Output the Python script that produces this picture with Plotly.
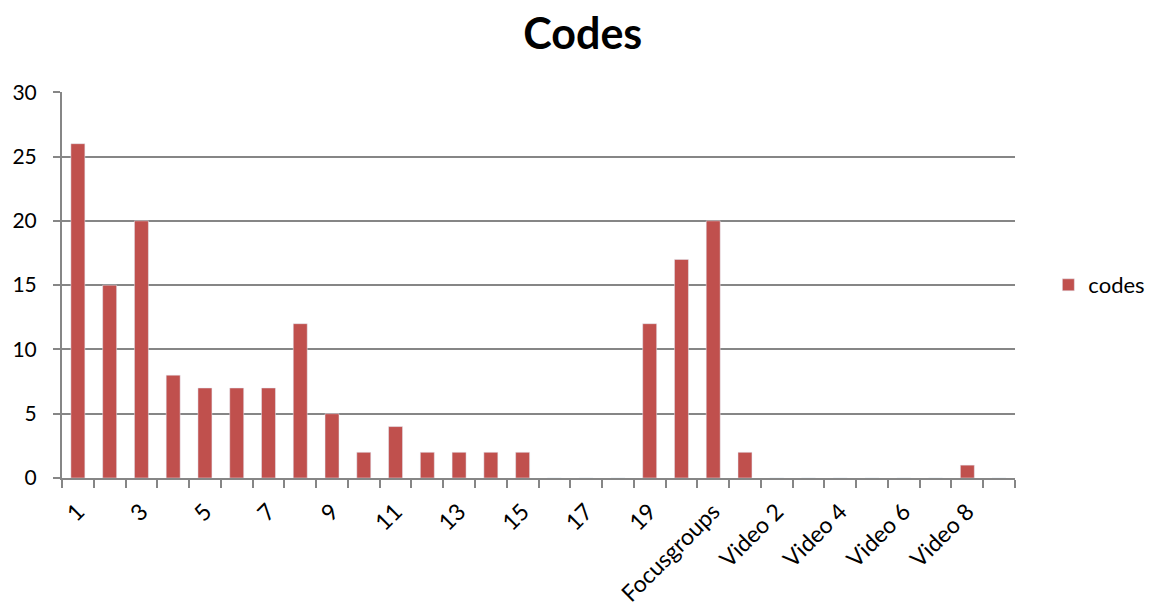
import plotly.graph_objects as go

categories = [str(i) for i in range(1, 21)] + ["Focusgroups"] + [f"Video {i}" for i in range(1, 10)]
values = [26, 15, 20, 8, 7, 7, 7, 12, 5, 2, 4, 2, 2, 2, 2, 0, 0, 0, 12, 17, 20, 2, 0, 0, 0, 0, 0, 0, 1, 0]
series_name = "codes"
y_ticks = [0, 5, 10, 15, 20, 25, 30]

positions = list(range(1, len(categories) + 1))
boundaries = [p - 0.5 for p in positions] + [positions[-1] + 0.5]
label_pos = positions[::2]
label_text = categories[::2]

font = "Lato, Liberation Sans, sans-serif"
grey = "#868686"

fig = go.Figure()
fig.add_trace(go.Bar(x=positions, y=values, name=series_name, marker_color="#C0504D",
                     width=0.44, showlegend=True))
fig.add_trace(go.Scatter(x=[positions[0], positions[-1]], y=[0, 0], xaxis="x2",
                         mode="markers", marker=dict(opacity=0), showlegend=False, hoverinfo="skip"))

xrange = [0.5, len(categories) + 0.5]
# page body has an 8px margin, so the figure is sized to fit inside the window
fig.update_layout(
    width=1145, height=597,
    margin=dict(l=54, r=138, t=84, b=127, autoexpand=False),
    paper_bgcolor="white", plot_bgcolor="white",
    title=dict(text="<b>Codes</b>", x=0.502, xanchor="center", y=0.957, yanchor="middle",
               font=dict(family=font, size=43, color="black")),
    font=dict(family=font, size=20, color="black"),
    xaxis=dict(range=xrange, tickmode="array", tickvals=boundaries, ticktext=[""] * len(boundaries),
               ticks="outside", ticklen=8, tickcolor=grey, tickwidth=2, automargin=False,
               showline=True, linecolor=grey, linewidth=2, showgrid=False, zeroline=False),
    xaxis2=dict(range=xrange, overlaying="x", side="bottom", anchor="y", tickmode="array",
                tickvals=label_pos, ticktext=label_text, tickangle=-45, ticks="outside", ticklen=10,
                tickcolor="rgba(0,0,0,0)", showline=False, showgrid=False, zeroline=False,
                automargin=False, tickfont=dict(family=font, size=23, color="black")),
    yaxis=dict(range=[0, 30.02], tickmode="array", tickvals=y_ticks, ticks="outside", ticklen=7,
               tickcolor=grey, tickwidth=2, showline=True, linecolor=grey, linewidth=2,
               showgrid=True, gridcolor=grey, gridwidth=2, zeroline=False, automargin=False,
               tickfont=dict(family=font, size=21, color="black"), ticklabelstandoff=12),
    legend=dict(x=1.035, y=0.5, xanchor="left", yanchor="middle", font=dict(family=font, size=22),
                itemwidth=30, bgcolor="rgba(0,0,0,0)"),
    bargap=0.5,
)

fig.write_html("out.html")
